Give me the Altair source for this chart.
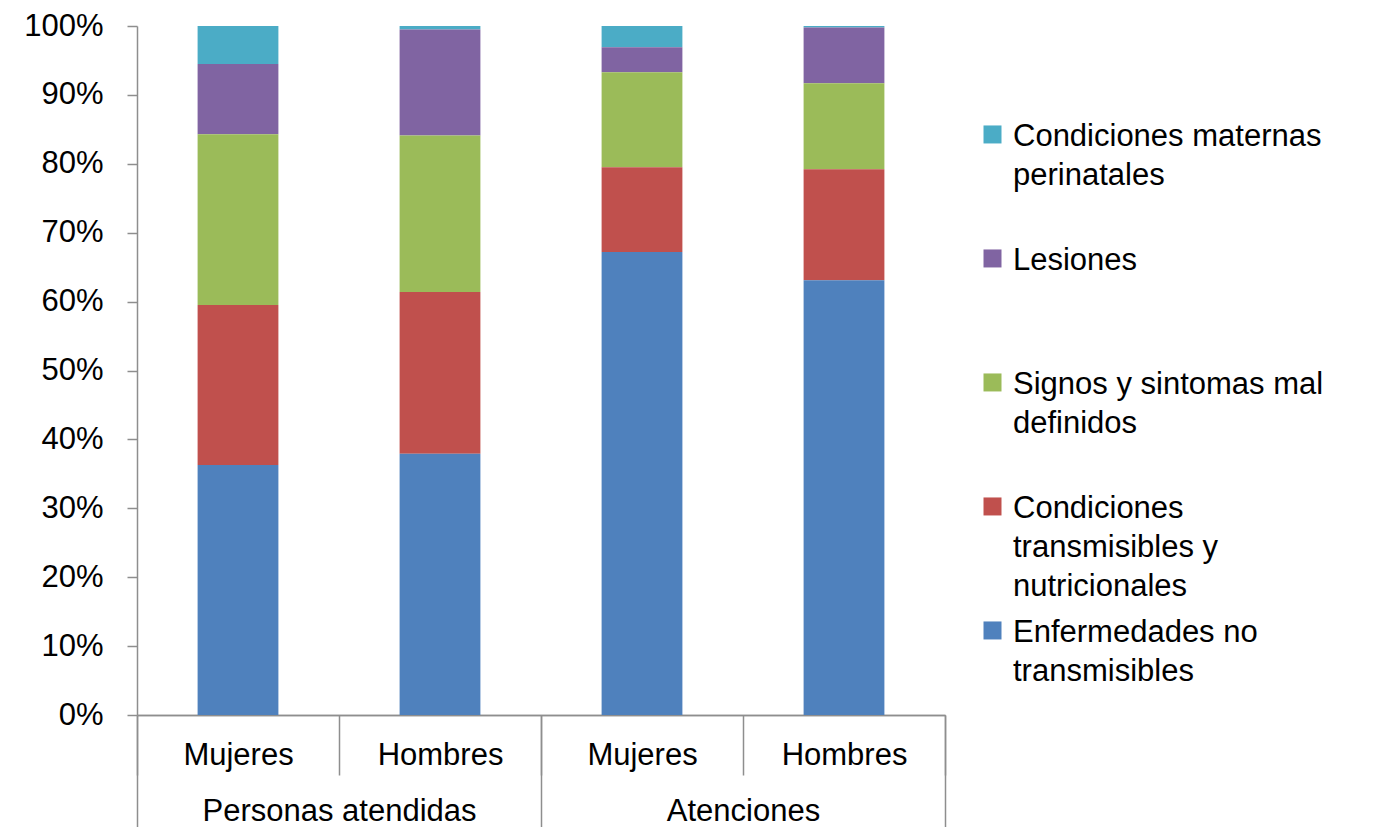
import json
import altair as alt
import pandas as pd

# ---- data ----
grupos = ["Personas atendidas", "Personas atendidas", "Atenciones", "Atenciones"]
sexos = ["Mujeres", "Hombres", "Mujeres", "Hombres"]

causas = [
    "Condiciones maternas perinatales",
    "Lesiones",
    "Signos y sintomas mal definidos",
    "Condiciones transmisibles y nutricionales",
    "Enfermedades no transmisibles",
]
etiquetas = [
    ["Condiciones maternas", "perinatales"],
    ["Lesiones"],
    ["Signos y sintomas mal", "definidos"],
    ["Condiciones", "transmisibles y", "nutricionales"],
    ["Enfermedades no", "transmisibles"],
]
colores = ["#4BACC6", "#8064A2", "#9BBB59", "#C0504D", "#4F81BD"]

# percentage per bar (Personas-Mujeres, Personas-Hombres, Atenciones-Mujeres, Atenciones-Hombres)
maternas = [5.5, 0.5, 3.1, 0.2]
lesiones = [10.2, 15.4, 3.6, 8.1]
signos = [24.8, 22.7, 13.8, 12.5]
transmisibles = [23.2, 23.5, 12.3, 16.1]
no_transmisibles = [36.3, 37.9, 67.2, 63.1]

series = [maternas, lesiones, signos, transmisibles, no_transmisibles]
y_ticks = [0, 0.1, 0.2, 0.3, 0.4, 0.5, 0.6, 0.7, 0.8, 0.9, 1.0]

# ---- tables ----
barras = [f"{g} - {s}" for g, s in zip(grupos, sexos)]
rows = []
for ci, (causa, vals) in enumerate(zip(causas, series)):
    for bi, v in enumerate(vals):
        rows.append({"barra": barras[bi], "causa": causa, "valor": v,
                     "orden": len(causas) - 1 - ci})
df = pd.DataFrame(rows)
grupos_unicos = list(dict.fromkeys(grupos))
df_grupos = pd.DataFrame({"grupo": grupos_unicos})
df_barras = pd.DataFrame({"barra": barras})

label_map = "{" + ", ".join(f"{json.dumps(c)}: {json.dumps(l)}" for c, l in zip(causas, etiquetas)) + "}"

FONT = "Liberation Sans"
GRAY = "#8e8e8e"
FS = 31

bars = alt.Chart(df).mark_bar().encode(
    x=alt.X("barra:N", sort=barras,
            scale=alt.Scale(paddingInner=0.6, paddingOuter=0.3),
            axis=None),
    y=alt.Y("valor:Q", stack="normalize",
            scale=alt.Scale(domain=[0, 1]),
            axis=alt.Axis(title=None, values=y_ticks, format=".0%",
                          tickSize=10, labelPadding=24, labelFontSize=FS)),
    color=alt.Color("causa:N",
                    scale=alt.Scale(domain=causas, range=colores),
                    legend=alt.Legend(
                        title=None, orient="none", legendX=840, legendY=80,
                        labelExpr=label_map + "[datum.label]",
                        labelFontSize=31, labelFont=FONT, labelColor="#000000",
                        labelLimit=600, labelBaseline="top", labelOffset=5,
                        symbolType="M-1,0.44H1V2.44H-1Z", symbolSize=324,
                        symbolStrokeWidth=0, symbolOpacity=1,
                        gridAlign="all", rowPadding=-6, padding=0)),
    order=alt.Order("orden:Q", sort="ascending"),
)

# axis of the individual bars (Mujeres / Hombres) with separators at band edges
sex_axis = alt.Chart(df_barras).mark_bar(opacity=0).encode(
    x=alt.X("barra:N", sort=barras,
            scale=alt.Scale(paddingInner=0, paddingOuter=0),
            axis=alt.Axis(title=None, orient="bottom", labelAngle=0,
                          labelExpr="split(datum.label, ' - ')[1]",
                          tickBand="extent", tickSize=60, labelPadding=-35,
                          labelFontSize=FS, labelBaseline="top", labelLimit=400)),
)

# axis of the groups (Personas atendidas / Atenciones)
group_axis = alt.Chart(df_grupos).mark_bar(opacity=0).encode(
    x=alt.X("grupo:N", sort=grupos_unicos,
            scale=alt.Scale(paddingInner=0, paddingOuter=0),
            axis=alt.Axis(title=None, orient="bottom", labelAngle=0,
                          tickBand="extent", tickSize=115, labelPadding=-34,
                          labelFontSize=FS, labelBaseline="top", labelLimit=600)),
)

chart = alt.layer(bars, sex_axis, group_axis).resolve_scale(x="independent").properties(
    width=808, height=689,
    autosize=alt.AutoSizeParams(type="none"),
    padding={"left": 129, "top": 18, "right": 443, "bottom": 112},
    background="white",
).configure(
    style={"guide-label": {"lineHeight": 39}}
).configure_view(stroke=None).configure_axis(
    grid=False, labelFont=FONT, labelColor="#000000",
    domainColor=GRAY, tickColor=GRAY, domainWidth=1.5, tickWidth=1.5,
)

chart.save("out.html", embed_options={"renderer": "svg", "actions": False})
